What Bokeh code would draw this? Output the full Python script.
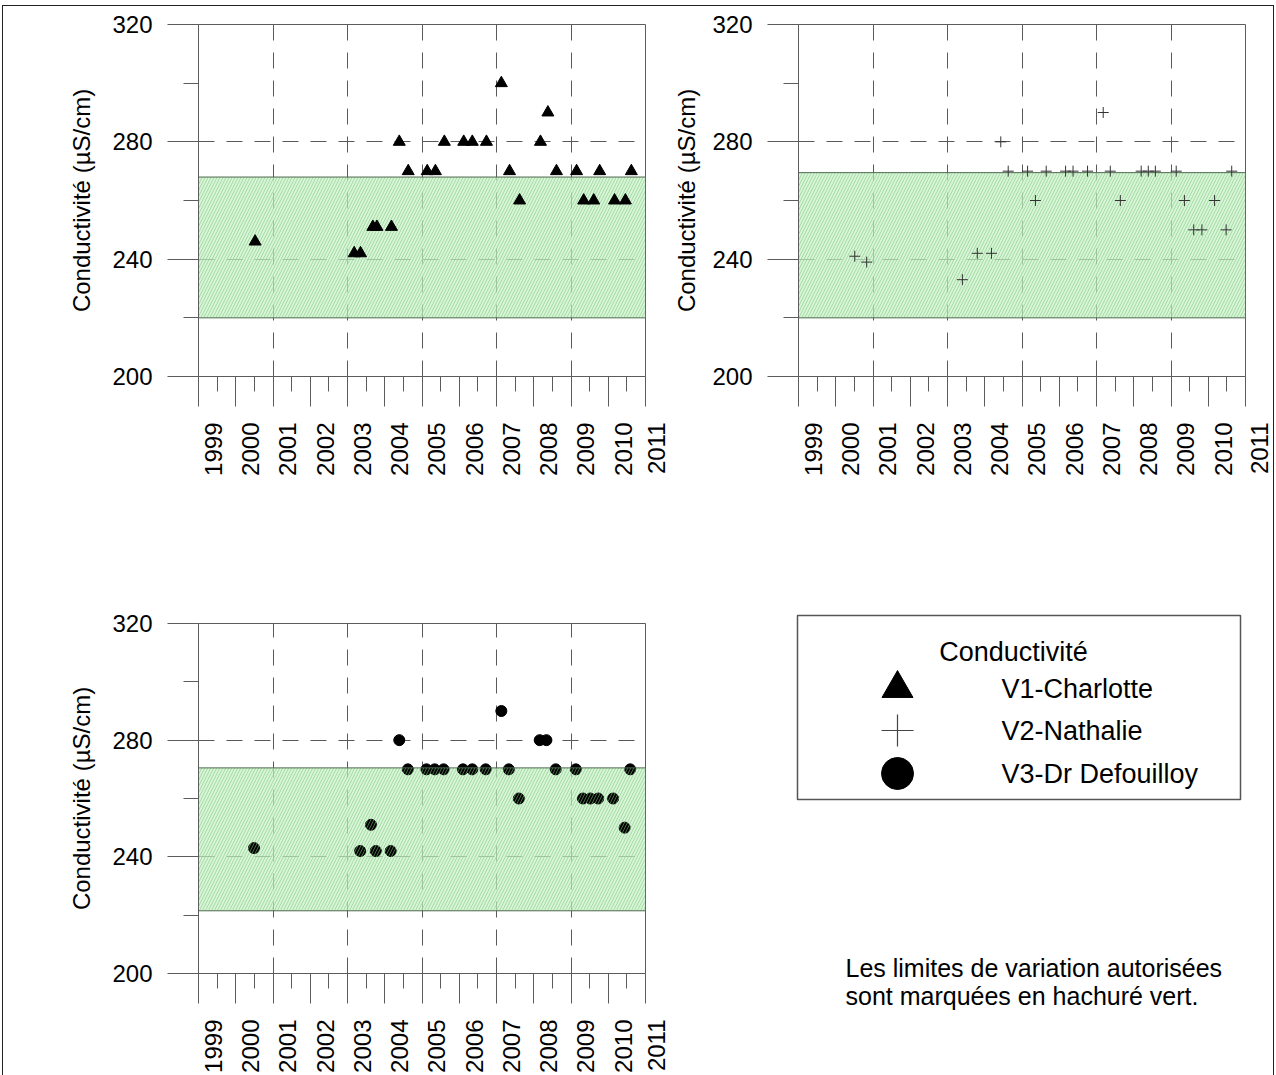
import math
from bokeh.plotting import figure
from bokeh.models import Range1d, FixedTicker
from bokeh.layouts import column, row
from bokeh.embed import file_html
from bokeh.resources import INLINE
from bokeh.core.properties import value

# ---------------- data ----------------
YEARS = list(range(1999, 2012))
YEAR_LABELS = [str(y) for y in YEARS]
HALF_YEARS = [y + 0.5 for y in YEARS[:-1]]
Y_MAJOR = [200, 240, 280, 320]
Y_MINOR = [220, 260, 300]
X_GRID = [2001, 2003, 2005, 2007, 2009]
Y_GRID = [240, 280]
Y_TITLE = "Conductivité (µS/cm)"

V1_NAME = "V1-Charlotte"
V1_X = [2000.52, 2003.18, 2003.35, 2003.68, 2003.79, 2004.18, 2004.39, 2004.63, 2005.14,
        2005.36, 2005.60, 2006.12, 2006.35, 2006.73, 2007.13, 2007.35, 2007.62, 2008.18,
        2008.38, 2008.61, 2009.15, 2009.34, 2009.61, 2009.77, 2010.17, 2010.46, 2010.62]
V1_Y = [246, 242, 242, 251, 251, 251, 280, 270, 270,
        270, 280, 280, 280, 280, 300, 270, 260, 280,
        290, 270, 270, 260, 260, 270, 260, 260, 270]
V1_ZONE = [220, 268]

V2_NAME = "V2-Nathalie"
V2_X = [2000.51, 2000.83, 2003.40, 2003.80, 2004.18, 2004.43, 2004.63, 2005.15, 2005.36,
        2005.65, 2006.17, 2006.37, 2006.76, 2007.18, 2007.37, 2007.64, 2008.20, 2008.39,
        2008.58, 2009.14, 2009.36, 2009.61, 2009.83, 2010.17, 2010.48, 2010.63]
V2_Y = [241, 239, 233, 242, 242, 280, 270, 270, 260,
        270, 270, 270, 270, 290, 270, 260, 270, 270,
        270, 270, 260, 250, 250, 260, 250, 270]
V2_ZONE = [220, 269.5]

V3_NAME = "V3-Dr Defouilloy"
V3_X = [2000.49, 2003.34, 2003.63, 2003.76, 2004.16, 2004.39, 2004.62, 2005.12, 2005.34,
        2005.58, 2006.10, 2006.35, 2006.71, 2007.13, 2007.33, 2007.60, 2008.16, 2008.34,
        2008.59, 2009.13, 2009.32, 2009.52, 2009.73, 2010.13, 2010.44, 2010.59]
V3_Y = [243, 242, 251, 242, 242, 280, 270, 270, 270,
        270, 270, 270, 270, 290, 270, 260, 280, 280,
        270, 270, 260, 260, 260, 260, 250, 270]
V3_ZONE = [221.5, 270.5]

LEGEND_TITLE = "Conductivité"
NOTE_LINES = ["Les limites de variation autorisées", "sont marquées en hachuré vert."]

# ---------------- style ----------------
FONT = "Liberation Sans"
AX = "#5c5c5c"
GRID_C = "#5a5a5a"
ZONE_FILL = "#c6efc6"
ZONE_HATCH = "#7cc87c"
ZONE_EDGE = "#4f6a4f"
FRAME_W, FRAME_H = 447, 352


def make_panel(width, height, left, top, label_standoff):
    p = figure(width=width, height=height,
               x_range=Range1d(YEARS[0], YEARS[-1]),
               y_range=Range1d(Y_MAJOR[0], Y_MAJOR[-1]),
               output_backend="svg", toolbar_location=None,
               min_border_left=left, min_border_right=width - left - FRAME_W,
               min_border_top=top, min_border_bottom=height - top - FRAME_H)
    p.background_fill_color = "white"
    p.border_fill_color = "white"
    p.outline_line_color = AX
    p.outline_line_width = 1

    xa = p.xaxis[0]
    xa.ticker = FixedTicker(ticks=YEARS, minor_ticks=HALF_YEARS)
    xa.major_label_overrides = {y: "\n" + lab for y, lab in zip(YEARS, YEAR_LABELS)}
    xa.major_label_orientation = math.pi / 2
    xa.major_tick_out = 30
    xa.major_tick_in = 0
    xa.minor_tick_out = 15
    xa.minor_tick_in = 0
    xa.major_label_standoff = 16
    xa.major_label_text_font = FONT
    xa.major_label_text_font_size = "24px"
    xa.major_label_text_color = "black"
    xa.major_label_text_line_height = 1.1
    xa.axis_line_color = AX
    xa.major_tick_line_color = AX
    xa.minor_tick_line_color = AX

    ya = p.yaxis[0]
    ya.ticker = FixedTicker(ticks=Y_MAJOR, minor_ticks=Y_MINOR)
    ya.major_tick_out = 31
    ya.major_tick_in = 0
    ya.minor_tick_out = 15
    ya.minor_tick_in = 0
    ya.major_label_standoff = 15
    ya.major_label_text_font = FONT
    ya.major_label_text_font_size = "24px"
    ya.major_label_text_color = "black"
    ya.axis_label = Y_TITLE
    ya.axis_label_standoff = label_standoff
    ya.axis_label_text_font = FONT
    ya.axis_label_text_font_size = "24px"
    ya.axis_label_text_font_style = "normal"
    ya.axis_label_text_color = "black"
    ya.axis_line_color = AX
    ya.major_tick_line_color = AX
    ya.minor_tick_line_color = AX

    p.xgrid.ticker = FixedTicker(ticks=X_GRID)
    p.ygrid.ticker = FixedTicker(ticks=Y_GRID)
    p.grid.grid_line_color = GRID_C
    p.grid.grid_line_dash = "16 12"
    p.grid.grid_line_width = 1
    return p


def zone_fill(p, zone):
    p.quad(left=[YEARS[0]], right=[YEARS[-1]], bottom=[zone[0]], top=[zone[1]],
           fill_color=ZONE_FILL, fill_alpha=0.7, line_color=None)


def zone_hatch(p, zone):
    p.quad(left=[YEARS[0]], right=[YEARS[-1]], bottom=[zone[0]], top=[zone[1]],
           fill_color=None, hatch_pattern="/", hatch_color=ZONE_HATCH, hatch_alpha=0.55,
           hatch_scale=6, hatch_weight=1, line_color=ZONE_EDGE, line_width=1)


# page: border starts at x=2 / y=5; content begins at x=3, y=6
# top-left: V1
p1 = make_panel(667, 494, 195, 18, 14)
zone_fill(p1, V1_ZONE)
zone_hatch(p1, V1_ZONE)
p1.scatter(V1_X, V1_Y, marker="triangle", size=12, fill_color="black", line_color="black")

# top-right: V2
p2 = make_panel(603, 494, 128, 18, 9)
zone_fill(p2, V2_ZONE)
zone_hatch(p2, V2_ZONE)
p2.scatter(V2_X, V2_Y, marker="cross", size=11, line_color="#333333", line_width=1)

# bottom-left: V3 (hatch drawn over the dots)
p3 = make_panel(667, 575, 195, 123, 14)
zone_fill(p3, V3_ZONE)
p3.scatter(V3_X, V3_Y, marker="circle", size=11, fill_color="black", line_color="black")
zone_hatch(p3, V3_ZONE)

# bottom-right: legend + note, in page-pixel coordinates (frame not aligned with p3)
p4 = figure(width=603, height=575, x_range=Range1d(670, 1273), y_range=Range1d(1075, 500),
            output_backend="svg", toolbar_location=None,
            x_axis_location=None, y_axis_location=None, frame_align=False,
            min_border_left=0, min_border_right=0, min_border_top=0, min_border_bottom=0)
p4.grid.visible = False
p4.outline_line_color = None
p4.background_fill_color = "white"
p4.border_fill_color = "white"

p4.quad(left=[797], right=[1240], top=[615], bottom=[799], fill_color=None,
        line_color="#555555", line_width=1.5)
p4.text(x=[1013], y=[651], text=[LEGEND_TITLE], text_font=value(FONT), text_font_size="27px",
        text_align="center", text_baseline="middle", text_color="black")
LEG_MARKERS = ["triangle", "cross", "circle"]
LEG_NAMES = [V1_NAME, V2_NAME, V3_NAME]
LEG_Y = [688, 730, 773]
for m, nm, yy in zip(LEG_MARKERS, LEG_NAMES, LEG_Y):
    if m == "cross":
        p4.scatter([897], [yy], marker=m, size=32, line_color="#444444", line_width=1.2)
    else:
        p4.scatter([897], [yy], marker=m, size=32 if m == "circle" else 31,
                   fill_color="black", line_color="black")
    p4.text(x=[1001], y=[yy], text=[nm], text_font=value(FONT), text_font_size="27px",
            text_align="left", text_baseline="middle", text_color="black")

p4.text(x=[845, 845], y=[967, 995], text=NOTE_LINES, text_font=value(FONT),
        text_font_size="25px", text_align="left", text_baseline="middle", text_color="black")

layout = column(row(p1, p2), row(p3, p4),
                styles={"margin-left": "2px", "margin-top": "5px",
                        "border-left": "1px solid #222", "border-top": "1px solid #222",
                        "border-right": "1px solid #222"})
open("out.html", "w").write(file_html(layout, INLINE))
